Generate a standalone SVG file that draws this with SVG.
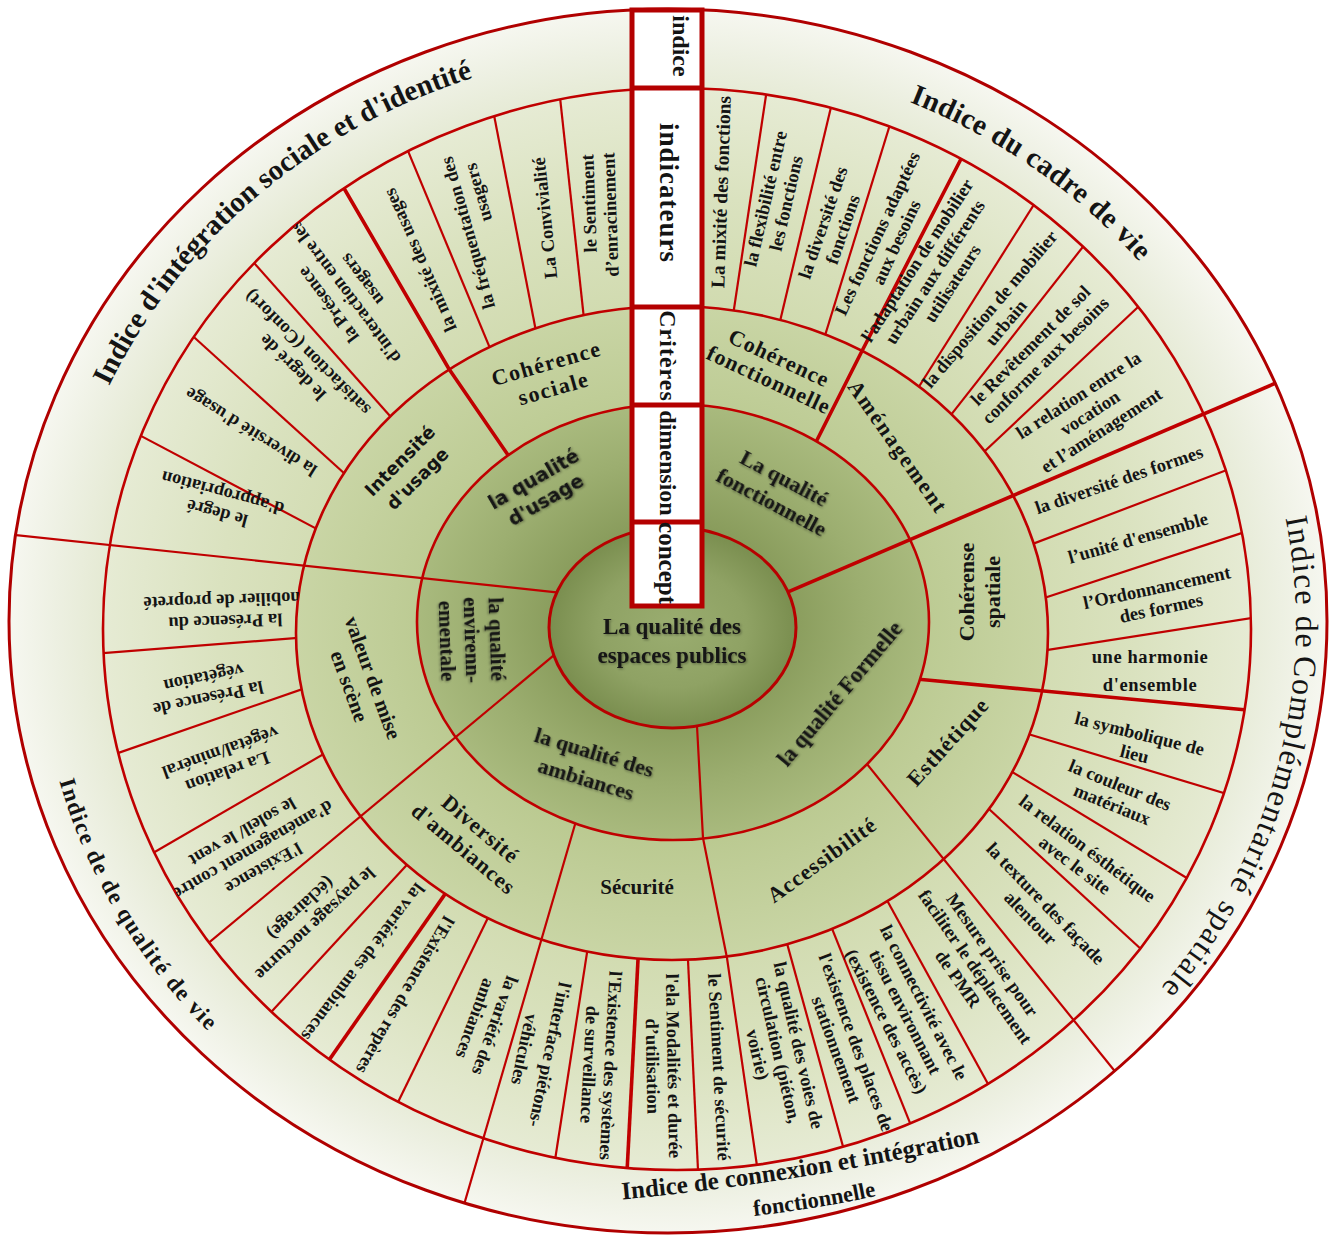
<svg xmlns="http://www.w3.org/2000/svg" width="1335" height="1236" viewBox="0 0 1335 1236">
<defs>
  <style>
    .t { font-family: "Liberation Serif", "Times New Roman", serif; font-weight: bold; fill: #141414; text-anchor: middle; }
    .st { text-anchor: start; }
    .sans { font-family: "DejaVu Sans", Verdana, sans-serif; }
    .ind { font-size: 18.5px; }
    .crit { font-size: 22px; }
    .dim { font-size: 22px; filter: url(#sh); }
    .lbl { font-size: 24px; }
    .cs { font-size: 32px; font-weight: normal; letter-spacing: 1.5px; }
    .dv { stroke: #c00000; stroke-width: 2.2; fill: none; stroke-linejoin: round; }
    .thk { stroke-width: 3.6; }
    .ring { fill: none; stroke: #c00000; stroke-width: 2.6; }
    .box { fill: #ffffff; stroke: #b40000; stroke-width: 5; }
    .boxl { stroke: #b40000; stroke-width: 5; }
  </style>
  <filter id="sh" x="-10%" y="-30%" width="120%" height="160%">
    <feDropShadow dx="1.2" dy="1.2" stdDeviation="1.2" flood-color="#000" flood-opacity="0.35"/>
  </filter>
  <radialGradient id="gOut" cx="50%" cy="50%" r="50%">
    <stop offset="0.85" stop-color="#e4e9d2"/>
    <stop offset="0.93" stop-color="#edf0e2"/>
    <stop offset="1" stop-color="#f6f7f0"/>
  </radialGradient>
  <radialGradient id="gInd" cx="50%" cy="50%" r="50%">
    <stop offset="0.6" stop-color="#d1dbb0"/>
    <stop offset="0.8" stop-color="#dae2bf"/>
    <stop offset="1" stop-color="#e6ebd4"/>
  </radialGradient>
  <radialGradient id="gCrit" cx="50%" cy="50%" r="50%">
    <stop offset="0.62" stop-color="#bac990"/>
    <stop offset="1" stop-color="#c9d5a5"/>
  </radialGradient>
  <radialGradient id="gDim" cx="50%" cy="50%" r="50%">
    <stop offset="0.45" stop-color="#899c5c"/>
    <stop offset="0.75" stop-color="#9cae70"/>
    <stop offset="1" stop-color="#a9ba7e"/>
  </radialGradient>
  <radialGradient id="gCen" cx="50%" cy="50%" r="50%">
    <stop offset="0" stop-color="#9aad70"/>
    <stop offset="0.6" stop-color="#8fa264"/>
    <stop offset="1" stop-color="#7a8e4f"/>
  </radialGradient>
  <path id="e0" d="M549,627.5 A123.5,100.5 0 1 0 796,627.5 A123.5,100.5 0 1 0 549,627.5 Z"/>
  <path id="e1" d="M417,622 A256,218 0 1 0 929,622 A256,218 0 1 0 417,622 Z"/>
  <path id="e2" d="M296,633 A376,327 0 1 0 1048,633 A376,327 0 1 0 296,633 Z"/>
  <path id="e3" d="M103,629 A574,541 0 1 0 1251,629 A574,541 0 1 0 103,629 Z"/>
  <path id="e4" d="M9,621 A659,612 0 1 0 1327,621 A659,612 0 1 0 9,621 Z"/>
  <clipPath id="kC0O"><path clip-rule="evenodd" d="M9,621 A659,612 0 1 0 1327,621 A659,612 0 1 0 9,621 Z M549,627.5 A123.5,100.5 0 1 0 796,627.5 A123.5,100.5 0 1 0 549,627.5 Z"/></clipPath>
  <clipPath id="kC0I"><path clip-rule="evenodd" d="M103,629 A574,541 0 1 0 1251,629 A574,541 0 1 0 103,629 Z M549,627.5 A123.5,100.5 0 1 0 796,627.5 A123.5,100.5 0 1 0 549,627.5 Z"/></clipPath>
  <clipPath id="kDO"><path clip-rule="evenodd" d="M9,621 A659,612 0 1 0 1327,621 A659,612 0 1 0 9,621 Z M417,622 A256,218 0 1 0 929,622 A256,218 0 1 0 417,622 Z"/></clipPath>
  <clipPath id="kDI"><path clip-rule="evenodd" d="M103,629 A574,541 0 1 0 1251,629 A574,541 0 1 0 103,629 Z M417,622 A256,218 0 1 0 929,622 A256,218 0 1 0 417,622 Z"/></clipPath>
  <clipPath id="kCI"><path clip-rule="evenodd" d="M103,629 A574,541 0 1 0 1251,629 A574,541 0 1 0 103,629 Z M296,633 A376,327 0 1 0 1048,633 A376,327 0 1 0 296,633 Z"/></clipPath>
  <path id="p1" d="M63.4,524.6 A618,578 0 0 1 586,52.6"/>
  <path id="p2" d="M777.6,65.6 A608,568 0 0 1 1243.3,430.7"/>
  <path id="p3" d="M1212.4,333 A624,584 0 0 1 984,1130.8"/>
  <path id="p4" d="M39.4,676.9 A635,595 0 0 0 354.5,1140.3"/>
  <path id="p5" d="M606,1201 Q800,1184 996,1139"/>
  <path id="p6" d="M735,1218 Q815,1210 895,1192"/>
</defs>

<rect width="1335" height="1236" fill="#ffffff"/>

<!-- concentric bands, outermost first -->
<g id="bands">
  <use href="#e4" fill="url(#gOut)"/>
  <use href="#e3" fill="url(#gInd)"/>
  <use href="#e2" fill="url(#gCrit)"/>
  <use href="#e1" fill="url(#gDim)"/>
  <use href="#e0" fill="url(#gCen)"/>
</g>

<!-- sector dividers, each clipped to the bands it crosses -->
<g id="connectors">
  <g clip-path="url(#kC0O)">
    <line class="dv" x1="575" y1="594.3" x2="0" y2="533.4"/>
    <line class="dv thk" x1="770" y1="599.6" x2="1300" y2="372.7"/>
  </g>
  <g clip-path="url(#kC0I)">
    <line class="dv" x1="575" y1="637.7" x2="190" y2="958.4"/>
    <polyline class="dv" points="696,712 697,726 703,838 727,958 757,1166 760,1186"/>
  </g>
  <g clip-path="url(#kDO)">
    <line class="dv" x1="855" y1="749.2" x2="1130" y2="1090"/>
    <line class="dv" x1="580.7" y1="805" x2="453.7" y2="1240"/>
  </g>
  <g clip-path="url(#kDI)">
    <polyline class="dv thk" points="515,466 508,455 449,369 345,190 335,172"/>
    <polyline class="dv thk" points="810,454 816,442 863,349 961,159 968,145"/>
    <polyline class="dv thk" points="905,678 927,680 1033,690 1247,710 1265,712"/>
  </g>
  <g clip-path="url(#kCI)">
    <line class="dv" x1="731.2" y1="327.6" x2="770.8" y2="63.4"/>
    <line class="dv" x1="776.1" y1="337.7" x2="836.9" y2="82.3"/>
    <line class="dv" x1="819.7" y1="352.8" x2="895.3" y2="107.2"/>
    <line class="dv" x1="906.4" y1="406.5" x2="1046.6" y2="184.5"/>
    <line class="dv" x1="938.6" y1="430.6" x2="1097.4" y2="228.4"/>
    <line class="dv" x1="967.9" y1="467" x2="1155.1" y2="291"/>
    <line class="dv" x1="1012" y1="551.8" x2="1250" y2="461.2"/>
    <line class="dv" x1="1023.6" y1="604.7" x2="1265.4" y2="525.3"/>
    <line class="dv" x1="1022.4" y1="653.8" x2="1276.6" y2="614.2"/>
    <line class="dv" x1="1007.8" y1="728" x2="1247.2" y2="800"/>
    <line class="dv" x1="992.9" y1="760.2" x2="1211.1" y2="892.8"/>
    <line class="dv" x1="971.9" y1="793.3" x2="1159.1" y2="965.7"/>
    <line class="dv" x1="876" y1="880.2" x2="1000" y2="1105.8"/>
    <line class="dv" x1="823.5" y1="907.4" x2="921.5" y2="1151.6"/>
    <line class="dv" x1="781.3" y1="922.6" x2="850.7" y2="1174.4"/>
    <line class="dv" x1="686.8" y1="934.8" x2="699.2" y2="1195.2"/>
    <line class="dv thk" x1="639.3" y1="934.6" x2="625.7" y2="1197.4"/>
    <line class="dv" x1="590.8" y1="928.2" x2="551.2" y2="1184.8"/>
    <line class="dv" x1="495.4" y1="902.6" x2="387.6" y2="1123.4"/>
    <line class="dv thk" x1="456.9" y1="877.1" x2="313.1" y2="1082.9"/>
    <line class="dv" x1="420.8" y1="849.8" x2="257.2" y2="1027.2"/>
    <line class="dv" x1="342.3" y1="743.2" x2="132.7" y2="864.8"/>
    <line class="dv" x1="321.8" y1="682.4" x2="96.2" y2="760.6"/>
    <line class="dv" x1="320" y1="636.2" x2="82" y2="654.8"/>
    <line class="dv" x1="335.6" y1="538.9" x2="122.4" y2="426.1"/>
    <line class="dv" x1="362.9" y1="490.2" x2="178.1" y2="322.8"/>
    <line class="dv" x1="405.1" y1="433.1" x2="238.9" y2="245.9"/>
    <line class="dv" x1="496.5" y1="363.8" x2="398.5" y2="128.2"/>
    <line class="dv" x1="538.8" y1="345.7" x2="489.2" y2="90.3"/>
    <line class="dv" x1="585.8" y1="335.6" x2="557.2" y2="71.4"/>
  </g>
</g>

<!-- band outlines -->
<g id="outlines">
  <use href="#e4" class="ring" style="stroke:#b00000;stroke-width:3"/>
  <use href="#e3" class="ring"/>
  <use href="#e2" class="ring"/>
  <use href="#e1" class="ring"/>
  <use href="#e0" class="ring" style="stroke:#b80000;stroke-width:3"/>
</g>

<!-- level legend strip -->
<g id="legend">
  <rect class="box" x="632" y="10" width="70" height="596"/>
  <line class="boxl" x1="632" y1="88" x2="702" y2="88"/>
  <line class="boxl" x1="632" y1="307" x2="702" y2="307"/>
  <line class="boxl" x1="632" y1="405" x2="702" y2="405"/>
  <line class="boxl" x1="632" y1="522" x2="702" y2="522"/>
  <text class="t lbl" transform="translate(681 46) rotate(90)" y="8">indice</text>
  <text class="t" style="font-size:27px;letter-spacing:1px" transform="translate(669 193) rotate(90)" y="9">indicateurs</text>
  <text class="t lbl" style="letter-spacing:1px" transform="translate(668 356) rotate(90)" y="8">Critères</text>
  <text class="t lbl" transform="translate(668 463) rotate(90)" y="8">dimension</text>
  <text class="t" style="font-size:25px" transform="translate(667 563) rotate(90)" y="8">concept</text>
</g>

<!-- concept -->
<g id="concept">
  <text class="t" style="font-size:23px;filter:url(#sh)" x="672" y="634">La qualité  des</text>
  <text class="t" style="font-size:23px;filter:url(#sh)" x="672" y="663">espaces  publics</text>
</g>

<!-- dimensions -->
<g id="dimensions">
  <text class="t sans dim" style="font-size:19px" transform="translate(540 490) rotate(-30)"><tspan x="0" y="-5.7">la qualité</tspan><tspan x="0" y="18.3">d'usage</tspan></text>
  <text class="t dim" transform="translate(778 490) rotate(28)"><tspan x="0" y="-6.2">La qualité</tspan><tspan x="0" y="20.8">fonctionnelle</tspan></text>
  <text class="t dim" style="font-size:22.5px" transform="translate(840 694) rotate(-50)" y="7.4">la qualité  Formelle</text>
  <text class="t dim" transform="translate(590 766) rotate(17)"><tspan x="0" y="-6.7">la qualité  des</tspan><tspan x="0" y="21.3">ambiances</tspan></text>
  <text class="t dim" style="font-size:21px" transform="translate(472 640) rotate(88)"><tspan x="0" y="-18.1">la qualité</tspan><tspan x="0" y="6.9">envirenn-</tspan><tspan x="0" y="31.9">ementale</tspan></text>
</g>

<!-- criteria -->
<g id="criteria">
  <text class="t sans crit" style="font-size:18px" transform="translate(409 470) rotate(-45)"><tspan x="0" y="-6.6">Intensité</tspan><tspan x="0" y="18.4">d'usage</tspan></text>
  <text class="t crit" style="letter-spacing:1.5px" transform="translate(550 376) rotate(-16)"><tspan x="0" y="-5.7">Cohérence</tspan><tspan x="0" y="20.3">sociale</tspan></text>
  <text class="t crit" style="letter-spacing:1px" transform="translate(774 369) rotate(25)"><tspan x="0" y="-4.7">Cohérence</tspan><tspan x="0" y="19.3">fonctionnelle</tspan></text>
  <text class="t crit" style="letter-spacing:2px" transform="translate(898 447) rotate(55)" y="7.3">Aménagement</text>
  <text class="t crit" transform="translate(980 592) rotate(-90)"><tspan x="0" y="-5.7">Cohérense</tspan><tspan x="0" y="20.3">spatiale</tspan></text>
  <text class="t crit" style="letter-spacing:1px" transform="translate(948 742) rotate(-48)" y="7.3">Esthétique</text>
  <text class="t crit" style="letter-spacing:1px" transform="translate(822 860) rotate(-36)" y="7.3">Accessibilité</text>
  <text class="t crit" style="font-size:21px" x="637" y="894">Sécurité</text>
  <text class="t crit" style="letter-spacing:1px" transform="translate(472 839) rotate(40)"><tspan x="0" y="-5.7">Diversité</tspan><tspan x="0" y="20.3">d'ambiances</tspan></text>
  <text class="t crit" style="font-size:21px" transform="translate(361 682) rotate(70)"><tspan x="0" y="-5.6">valeur de mise</tspan><tspan x="0" y="19.4">en scène</tspan></text>
</g>

<!-- indicators -->
<g id="indicators" clip-path="url(#kCI)">
  <text class="t ind" style="font-size:19.5px" transform="translate(721 192) rotate(-88)" y="6.5">La mixité des fonctions</text>
  <text class="t ind" transform="translate(776 201) rotate(-77)"><tspan x="0" y="-4.5">la flexibilité entre</tspan><tspan x="0" y="16.5">les fonctions</tspan></text>
  <text class="t ind" transform="translate(833 226) rotate(-71)"><tspan x="0" y="-4.5">la diversité des</tspan><tspan x="0" y="16.5">fonctions</tspan></text>
  <text class="t ind" transform="translate(887 238) rotate(-65)"><tspan x="0" y="-4.5">Les fonctions adaptées</tspan><tspan x="0" y="16.5">aux besoins</tspan></text>
  <text class="t ind" transform="translate(935 272) rotate(-57)"><tspan x="0" y="-15">l'adaptation de mobilier</tspan><tspan x="0" y="6">urbain aux différents</tspan><tspan x="0" y="27">utilisateurs</tspan></text>
  <text class="t ind" transform="translate(998 316) rotate(-50)"><tspan x="0" y="-4.5">la disposition de mobilier</tspan><tspan x="0" y="16.5">urbain</tspan></text>
  <text class="t ind" transform="translate(1038 353) rotate(-45)"><tspan x="0" y="-4.5">le Revêtement de sol</tspan><tspan x="0" y="16.5">conforme aux besoins</tspan></text>
  <text class="t ind" transform="translate(1090 413) rotate(-33)"><tspan x="0" y="-15">la relation entre la</tspan><tspan x="0" y="6">vocation</tspan><tspan x="0" y="27">et l’aménagement</tspan></text>
  <text class="t ind" transform="translate(1119 480) rotate(-19)" y="6">la diversité des formes</text>
  <text class="t ind" transform="translate(1138 538) rotate(-16)" y="6">l’unité d'ensemble</text>
  <text class="t ind" transform="translate(1159 598) rotate(-12)"><tspan x="0" y="-4.5">l’Ordonnancement</tspan><tspan x="0" y="16.5">des formes</tspan></text>
  <text class="t ind" style="letter-spacing:0.6px" transform="translate(1150 671)"><tspan x="0" y="-8">une harmonie</tspan><tspan x="0" y="20">d'ensemble</tspan></text>
  <text class="t ind" transform="translate(1137 744) rotate(14)"><tspan x="0" y="-4.5">la symbolique de</tspan><tspan x="0" y="16.5">lieu</tspan></text>
  <text class="t ind" transform="translate(1116 795) rotate(22)"><tspan x="0" y="-4.5">la couleur des</tspan><tspan x="0" y="16.5">matériaux</tspan></text>
  <text class="t ind" transform="translate(1081 857) rotate(37)"><tspan x="0" y="-4.5">la relation  ésthétique</tspan><tspan x="0" y="16.5">avec le site</tspan></text>
  <text class="t ind" transform="translate(1038 911) rotate(46)"><tspan x="0" y="-4.5">la texture des façade</tspan><tspan x="0" y="16.5">alentour</tspan></text>
  <text class="t ind" transform="translate(975 967) rotate(55)"><tspan x="0" y="-15">Mesure prise pour</tspan><tspan x="0" y="6">faciliter le déplacement</tspan><tspan x="0" y="27">de PMR</tspan></text>
  <text class="t ind" transform="translate(905 1012) rotate(63)"><tspan x="0" y="-15">la connectivité avec le</tspan><tspan x="0" y="6">tissu environnant</tspan><tspan x="0" y="27">(existence des accès)</tspan></text>
  <text class="t ind" transform="translate(846 1046) rotate(70)"><tspan x="0" y="-4.5">l'existence des places de</tspan><tspan x="0" y="16.5">stationnement</tspan></text>
  <text class="t ind" transform="translate(778 1050) rotate(77)"><tspan x="0" y="-15">la qualité des voies de</tspan><tspan x="0" y="6">circulation (piéton,</tspan><tspan x="0" y="27">voirie)</tspan></text>
  <text class="t ind" transform="translate(719 1067) rotate(87)" y="6">le Sentiment de sécurité</text>
  <text class="t ind" transform="translate(663 1066) rotate(89)"><tspan x="0" y="-4.5">l'ela Modalités et durée</tspan><tspan x="0" y="16.5">d’utilisation</tspan></text>
  <text class="t ind" transform="translate(600 1065) rotate(93)"><tspan x="0" y="-4.5">l'Existence des systèmes</tspan><tspan x="0" y="16.5">de surveillance</tspan></text>
  <text class="t ind" transform="translate(537 1052) rotate(102)"><tspan x="0" y="-7">l'interface  piétons-</tspan><tspan x="0" y="19">véhicules</tspan></text>
  <text class="t ind" transform="translate(485 1022) rotate(110)"><tspan x="0" y="-4.5">la variété des</tspan><tspan x="0" y="16.5">ambiances</tspan></text>
  <text class="t ind" transform="translate(405 995) rotate(120)" y="6">l'Existence des repères</text>
  <text class="t ind" transform="translate(363 962) rotate(127)" y="6">la variété des ambiances</text>
  <text class="t ind" transform="translate(308 916) rotate(137)"><tspan x="0" y="-4.5">le paysage nocturne</tspan><tspan x="0" y="16.5">(éclairage)</tspan></text>
  <text class="t ind" transform="translate(253 850) rotate(150)"><tspan x="0" y="-15">l'Existence</tspan><tspan x="0" y="6">d’aménagement contre</tspan><tspan x="0" y="27">le soleil/ le vent</tspan></text>
  <text class="t ind" transform="translate(224 762) rotate(160)"><tspan x="0" y="-4.5">La relation</tspan><tspan x="0" y="16.5">végétal/minéral</tspan></text>
  <text class="t ind" transform="translate(206 688) rotate(168)"><tspan x="0" y="-4.5">la Présence  de</tspan><tspan x="0" y="16.5">végétation</tspan></text>
  <text class="t ind" transform="translate(225 611) rotate(178)"><tspan x="0" y="-4.5">la Présence  du</tspan><tspan x="0" y="16.5">mobilier de propreté</tspan></text>
  <text class="t ind" transform="translate(220 503) rotate(195)"><tspan x="0" y="-4.5">le degré</tspan><tspan x="0" y="16.5">d'appropriation</tspan></text>
  <text class="t ind" transform="translate(251 432) rotate(212)" y="6">la diversité d'usage</text>
  <text class="t ind" transform="translate(300 360) rotate(225)"><tspan x="0" y="-4.5">le degré de</tspan><tspan x="0" y="16.5">satisfaction (Confort)</tspan></text>
  <text class="t ind" transform="translate(345 292) rotate(233)"><tspan x="0" y="-15">la Présence</tspan><tspan x="0" y="6">d'interaction entre les</tspan><tspan x="0" y="27">usagers</tspan></text>
  <text class="t ind" transform="translate(420 260) rotate(246)" y="6">la mixité des usages</text>
  <text class="t ind" transform="translate(478 230) rotate(254)"><tspan x="0" y="-4.5">la fréquentation des</tspan><tspan x="36" y="16.5">usagers</tspan></text>
  <text class="t ind" transform="translate(545 218) rotate(264)" y="6">La Convivialité</text>
  <text class="t ind" transform="translate(600 215) rotate(268)"><tspan x="12" y="-4.5">le Sentiment</tspan><tspan x="0" y="16.5">d’enracinement</tspan></text>
</g>

<!-- index band titles -->
<g id="indices">
  <text class="t" style="font-size:29px"><textPath href="#p1" startOffset="52%">Indice d'intégration  sociale et d'identité</textPath></text>
  <text class="t" style="font-size:29px;letter-spacing:0.5px"><textPath href="#p2" startOffset="45%">Indice du cadre de vie</textPath></text>
  <!-- long right-hand title set word by word along the same arc -->
  <text class="t st cs"><textPath href="#p3" startOffset="200">Indice de</textPath></text>
  <text class="t st cs"><textPath href="#p3" startOffset="338">Complémentarité</textPath></text>
  <text class="t st cs"><textPath href="#p3" startOffset="595">spatiale</textPath></text>
  <text class="t" style="font-size:23px;letter-spacing:1.5px"><textPath href="#p4" startOffset="43.5%">Indice de de qualité de vie</textPath></text>
  <text class="t" style="font-size:25px"><textPath href="#p5" startOffset="50%">Indice de connexion et intégration</textPath></text>
  <text class="t" style="font-size:22.5px"><textPath href="#p6" startOffset="50%">fonctionnelle</textPath></text>
</g>
</svg>
